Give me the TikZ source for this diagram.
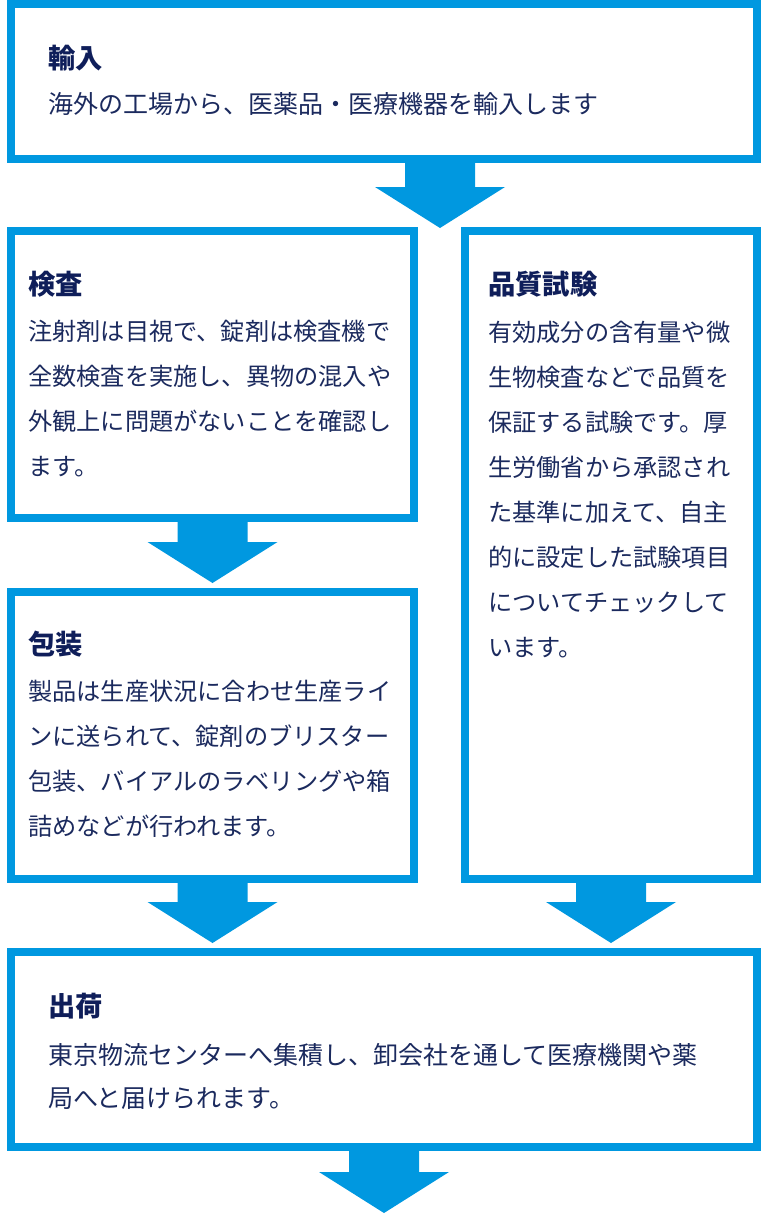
\documentclass[tikz,border=0pt]{standalone}
\usepackage{fontspec}
\setmainfont{Noto Sans CJK JP}
\usetikzlibrary{calc}
\definecolor{flowblue}{HTML}{0098E0}
\definecolor{ttl}{HTML}{0F1E5A}
\definecolor{txt}{HTML}{1B2A5E}
\newcommand\flowarrow[2]{%
  \fill[flowblue] ($(#1)+(-35,0)$) -- ($(#1)+(35,0)$) -- ($(#2)+(35,-41)$) --
    ($(#2)+(65,-41)$) -- (#2) -- ($(#2)+(-65,-41)$) -- ($(#2)+(-35,-41)$) -- cycle;}
\begin{document}
\begin{tikzpicture}[x=1pt,y=-1pt,
  box/.style={draw=flowblue,line width=8pt,fill=white,rectangle,inner sep=0pt,outer sep=0pt,anchor=north west},
  ttlnode/.style={anchor=north west,inner sep=0pt,text=ttl,font=\fontsize{27.3}{30}\selectfont\bfseries},
  bodynode/.style={anchor=north west,inner sep=0pt,text=txt,align=left,font=\fontsize{24.2}{45}\selectfont},
]
\useasboundingbox (0,0) rectangle (768,1220);
\fill[white] (0,0) rectangle (768,1220);

% boxes
\node[box,minimum width=746pt,minimum height=155pt] (imp) at (11,4) {};
\node[box,minimum width=403pt,minimum height=287pt] (ken) at (11,231) {};
\node[box,minimum width=403pt,minimum height=287pt] (hou) at (11,592) {};
\node[box,minimum width=292pt,minimum height=648pt] (hin) at (465,231) {};
\node[box,minimum width=746pt,minimum height=195pt] (shu) at (11,952) {};

% arrows
\coordinate (a1s) at ($(imp.south)+(56,0)$);
\coordinate (a1t) at ($(a1s |- ken.north)+(0,-3)$);
\flowarrow{a1s}{a1t}
\coordinate (a2t) at ($(ken.south |- hou.north)+(0,-9)$);
\flowarrow{ken.south}{a2t}
\coordinate (a3t) at ($(hou.south |- shu.north)+(0,-9)$);
\flowarrow{hou.south}{a3t}
\coordinate (a4t) at ($(hin.south |- shu.north)+(0,-9)$);
\flowarrow{hin.south}{a4t}
\coordinate (a5t) at ($(shu.south)+(0,66)$);
\flowarrow{shu.south}{a5t}

% texts
\node[ttlnode] (t1) at (48,45) {輸入};
\node[bodynode,font=\fontsize{25}{45}\selectfont] (b1) at (48,92) {海外の工場から、医薬品・医療機器を輸入します};

\node[ttlnode] (t2) at (28,271) {検査};
\node[bodynode] (b2) at (28,320) {注射剤は目視で、錠剤は検査機で\\全数検査を実施し、異物の混入や\\外観上に問題がないことを確認し\\ます。};

\node[ttlnode] (t3) at (28,631) {包装};
\node[bodynode] (b3) at (28,680) {製品は生産状況に合わせ生産ライ\\ンに送られて、錠剤のブリスター\\包装、バイアルのラベリングや箱\\詰めなどが行われます。};

\node[ttlnode] (t4) at (488,271) {品質試験};
\node[bodynode] (b4) at (488,321) {有効成分の含有量や微\\生物検査などで品質を\\保証する試験です。厚\\生労働省から承認され\\た基準に加えて、自主\\的に設定した試験項目\\についてチェックして\\います。};

\node[ttlnode] (t5) at (48,993) {出荷};
\node[bodynode,font=\fontsize{25}{43}\selectfont] (b5) at (48,1043) {東京物流センターへ集積し、卸会社を通して医療機関や薬\\局へと届けられます。};
\end{tikzpicture}
\end{document}
